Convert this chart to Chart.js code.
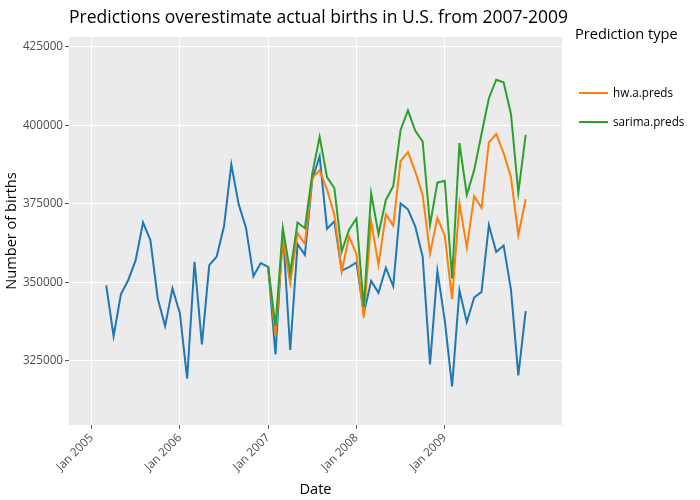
<!DOCTYPE html>
<html>
<head>
<meta charset="utf-8">
<script src="https://cdn.jsdelivr.net/npm/chart.js@4"></script>
<style>
  html, body { margin: 0; padding: 0; background: #ffffff; }
  #wrap { width: 700px; height: 500px; }
</style>
</head>
<body>
<div id="wrap"><canvas id="c" width="700" height="500"></canvas></div>
<script>
// ---- Data (monthly U.S. births) ----
const titleText = "Predictions overestimate actual births in U.S. from 2007-2009";
const xTitle = "Date";
const yTitle = "Number of births";
const legendTitle = "Prediction type";

// actual series: Mar 2005 .. Dec 2009
const actualStart = [2005, 3];
const actualBirths = [
  349000, 332800, 346200, 350700, 357000, 369000, 363400, 344800, 336000, 348000,
  340200, 319300, 356500, 330200, 355400, 358100, 367700, 387500, 374800, 367300, 351900, 356100,
  354900, 327000, 366500, 328400, 362100, 358700, 382700, 390100, 367000, 369400, 353700, 354800,
  356300, 340000, 350400, 346600, 354600, 348700, 375100, 373200, 367700, 358100, 323800, 353600,
  337900, 316800, 347400, 337300, 345100, 346900, 368200, 359600, 361700, 347600, 320300, 340800
];

// prediction series: Jan 2007 .. Dec 2009
const predStart = [2007, 1];
const hwPreds = [
  355000, 332900, 363700, 349700, 365600, 362200, 383200, 385600, 379500, 371500, 353400, 364600,
  358900, 338800, 369300, 355500, 371600, 368000, 388600, 391400, 385200, 377800, 359100, 370500,
  364800, 344600, 375100, 361100, 377400, 373700, 394500, 397200, 391100, 383400, 365000, 376400
];
const sarimaPreds = [
  355000, 336000, 367200, 353100, 369000, 367200, 384600, 396300, 383500, 380000, 359800, 366700,
  370300, 342100, 378300, 365300, 376200, 380600, 398500, 404700, 398200, 394800, 368200, 381700,
  382300, 351200, 394300, 377800, 385700, 397200, 408600, 414500, 413700, 403600, 378500, 396900
];

const xTickYears = [2005, 2006, 2007, 2008, 2009];
const yTickValues = [325000, 350000, 375000, 400000, 425000];
const seriesNames = ["actual", "hw.a.preds", "sarima.preds"];
const seriesColors = ["#1f77b4", "#ff7f0e", "#2ca02c"];

// ---- helpers ----
function toPoints(start, values) {
  return values.map((v, i) => {
    const m = (start[1] - 1) + i;
    return { x: start[0] + m / 12, y: v };
  });
}

const FONT = "'Open Sans', 'Noto Sans', sans-serif";

const decorPlugin = {
  id: 'decor',
  beforeDraw(chart) {
    const { ctx, chartArea: a } = chart;
    ctx.save();
    ctx.fillStyle = '#ffffff';
    ctx.fillRect(0, 0, chart.width, chart.height);
    ctx.fillStyle = '#EBEBEB';
    ctx.fillRect(a.left, a.top, a.right - a.left, a.bottom - a.top);
    ctx.restore();
  },
  afterDraw(chart) {
    const { ctx, chartArea: a } = chart;
    ctx.save();
    // title
    ctx.fillStyle = '#000000';
    ctx.font = "17.5px " + FONT;
    ctx.textAlign = 'left';
    ctx.textBaseline = 'alphabetic';
    ctx.fillText(titleText, a.left, 23);
    // axis titles
    ctx.font = "14.6px " + FONT;
    ctx.textAlign = 'center';
    ctx.textBaseline = 'middle';
    ctx.fillText(xTitle, (a.left + a.right) / 2, 490);
    ctx.save();
    ctx.translate(12, (a.top + a.bottom) / 2);
    ctx.rotate(-Math.PI / 2);
    ctx.fillText(yTitle, 0, 0);
    ctx.restore();
    // legend
    ctx.textAlign = 'left';
    ctx.fillText(legendTitle, 575, 35);
    ctx.font = "11.7px " + FONT;
    let y = 93;
    chart.data.datasets.forEach(ds => {
      if (!ds.inLegend) return;
      ctx.strokeStyle = ds.borderColor;
      ctx.lineWidth = 2;
      ctx.beginPath();
      ctx.moveTo(579, y);
      ctx.lineTo(608, y);
      ctx.stroke();
      ctx.fillStyle = '#000000';
      ctx.fillText(ds.label, 613, y + 1);
      y += 29;
    });
    ctx.restore();
  }
};

new Chart(document.getElementById('c'), {
  type: 'line',
  data: {
    datasets: [
      { label: seriesNames[0], data: toPoints(actualStart, actualBirths), borderColor: seriesColors[0], inLegend: false, order: 3 },
      { label: seriesNames[1], data: toPoints(predStart, hwPreds), borderColor: seriesColors[1], inLegend: true, order: 2 },
      { label: seriesNames[2], data: toPoints(predStart, sarimaPreds), borderColor: seriesColors[2], inLegend: true, order: 1 }
    ].map(d => Object.assign(d, { borderWidth: 2, pointRadius: 0, tension: 0, fill: false }))
  },
  options: {
    responsive: false,
    animation: false,
    layout: { padding: { top: 37, right: 138, left: 0, bottom: 0 } },
    plugins: { legend: { display: false }, title: { display: false }, tooltip: { enabled: false } },
    scales: {
      x: {
        type: 'linear',
        min: 2004.745,
        max: 2010.328,
        afterBuildTicks: s => { s.ticks = xTickYears.map(v => ({ value: v })); },
        afterFit: s => { s.height = 75; },
        ticks: {
          callback: v => 'Jan ' + v,
          minRotation: 45, maxRotation: 45,
          color: '#4d4d4d',
          font: { family: FONT, size: 11.7 },
          padding: 2
        },
        grid: { color: '#ffffff', lineWidth: 1, tickLength: 4, tickColor: '#555555' },
        border: { display: false }
      },
      y: {
        type: 'linear',
        min: 304500,
        max: 428100,
        afterBuildTicks: s => { s.ticks = yTickValues.map(v => ({ value: v })); },
        afterFit: s => { s.width = 69; },
        ticks: {
          callback: v => String(v),
          color: '#4d4d4d',
          font: { family: FONT, size: 11.7 },
          padding: 2
        },
        grid: { color: '#ffffff', lineWidth: 1, tickLength: 4, tickColor: '#555555' },
        border: { display: false }
      }
    }
  },
  plugins: [decorPlugin]
});
</script>
</body>
</html>
